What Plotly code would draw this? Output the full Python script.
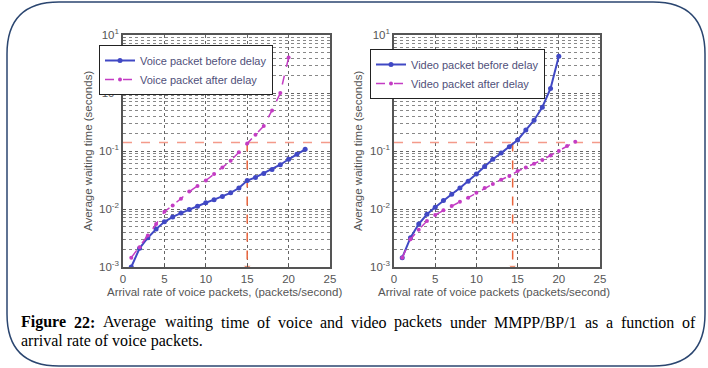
import plotly.graph_objects as go

# ---------------- data ----------------
x_voice_before = list(range(1, 23))
y_voice_before = [0.001, 0.0021, 0.0032, 0.0045, 0.0060, 0.0073, 0.0085, 0.0098, 0.0112, 0.0128,
                  0.0145, 0.0165, 0.019, 0.023, 0.031, 0.035, 0.041, 0.048, 0.058, 0.072, 0.088, 0.107]
x_voice_after = list(range(1, 21))
y_voice_after = [0.00145, 0.0022, 0.0035, 0.0055, 0.0090, 0.0115, 0.0150, 0.020, 0.025, 0.031,
                 0.040, 0.052, 0.068, 0.095, 0.135, 0.19, 0.27, 0.50, 1.0, 4.1]

x_video_before = list(range(1, 21))
y_video_before = [0.00145, 0.0032, 0.0055, 0.0081, 0.0107, 0.014, 0.018, 0.023, 0.030, 0.040,
                  0.054, 0.072, 0.092, 0.118, 0.155, 0.23, 0.34, 0.57, 1.2, 4.3]
x_video_after = list(range(1, 23))
y_video_after = [0.00145, 0.0030, 0.0044, 0.0062, 0.0079, 0.0095, 0.0113, 0.0133, 0.0157, 0.019,
                 0.023, 0.027, 0.032, 0.037, 0.045, 0.052, 0.060, 0.070, 0.084, 0.100, 0.122, 0.145]

threshold = 0.14
cut_left = 15
cut_right = 14.4
x_span = [0, 25]

x_ticks = [0, 5, 10, 15, 20, 25]
y_tickvals = [0.001, 0.01, 0.1, 1, 10]
y_ticktext = ["10<sup>-3</sup>", "10<sup>-2</sup>", "10<sup>-1</sup>", "10<sup>0</sup>", "10<sup>1</sup>"]

legend_left = ["Voice packet before delay", "Voice packet after delay"]
legend_right = ["Video packet before delay", "Video packet after delay"]
xtitle_left = "Arrival rate of voice packets, (packets/second)"
xtitle_right = "Arrival rate of voice packets (packets/second)"
ytitle = "Average waiting time (seconds)"
caption_line1 = ["<b>Figure</b>", "<b>22:</b>", "Average", "waiting", "time", "of", "voice", "and",
                 "video", "packets", "under", "MMPP/BP/1", "as", "a", "function", "of"]
caption_line2 = "arrival rate of voice packets."

# ---------------- styling ----------------
W, H = 708, 368
BLUE = "#4048c4"
MAG = "#c43cc4"
RED = "#e8643c"
PINK = "#f49a8a"
SANS = "Liberation Sans, Arial, sans-serif"
SERIF = "Liberation Serif, Times New Roman, serif"


def px(x):
    return x / W


def py(y):
    return 1 - y / H


fig = go.Figure()


def add_panel(xa, ya, legend, xb, yb, xa_, ya_, names, cut):
    xref = "x" if xa == 1 else "x%d" % xa
    yref = "y" if ya == 1 else "y%d" % ya
    fig.add_trace(go.Scatter(x=x_span, y=[threshold, threshold], mode="lines",
                             line=dict(color=PINK, width=1.5, dash="dash"),
                             showlegend=False, xaxis=xref, yaxis=yref, hoverinfo="skip"))
    fig.add_trace(go.Scatter(x=[cut, cut], y=[threshold, y_tickvals[0]], mode="lines+markers",
                             line=dict(color=RED, width=1.5, dash="dash"),
                             marker=dict(symbol=["circle", "triangle-down"], size=[0, 7], color=RED),
                             showlegend=False, xaxis=xref, yaxis=yref, hoverinfo="skip"))
    fig.add_trace(go.Scatter(x=xb, y=yb, mode="lines+markers", name=names[0],
                             line=dict(color=BLUE, width=2),
                             marker=dict(color=BLUE, size=5),
                             xaxis=xref, yaxis=yref, legend=legend))
    fig.add_trace(go.Scatter(x=xa_, y=ya_, mode="lines+markers", name=names[1],
                             line=dict(color=MAG, width=1.5, dash="dash"),
                             marker=dict(color=MAG, size=4),
                             xaxis=xref, yaxis=yref, legend=legend))


add_panel(1, 1, "legend", x_voice_before, y_voice_before, x_voice_after, y_voice_after,
          legend_left, cut_left)
add_panel(2, 2, "legend2", x_video_before, y_video_before, x_video_after, y_video_after,
          legend_right, cut_right)

axis_common = dict(showline=True, linecolor="#555", linewidth=1.5, mirror=True,
                   ticks="inside", ticklen=3, tickcolor="#555",
                   tickfont=dict(family=SANS, size=11.5, color="#555"),
                   showgrid=True, gridcolor="#666", griddash="dot", gridwidth=1, zeroline=False)

xaxis_base = dict(axis_common, range=x_span, tickvals=x_ticks)
yaxis_base = dict(axis_common, type="log", range=[-3, 1], tickvals=y_tickvals, ticktext=y_ticktext,
                  minor=dict(tickmode="linear", tick0=0, dtick="D1", showgrid=True,
                             gridcolor="#888", griddash="dot", gridwidth=1,
                             ticks="inside", ticklen=2, tickcolor="#777"))

y0, y1 = py(267), py(35)
leg_font = dict(family=SANS, size=11, color="#50507a")
fig.update_layout(
    autosize=True, margin=dict(l=0, r=0, t=0, b=0, autoexpand=False),
    paper_bgcolor="white", plot_bgcolor="white",
    xaxis=dict(xaxis_base, domain=[px(123), px(330)], anchor="y"),
    yaxis=dict(yaxis_base, domain=[y0, y1], anchor="x"),
    xaxis2=dict(xaxis_base, domain=[px(394), px(600)], anchor="y2"),
    yaxis2=dict(yaxis_base, domain=[y0, y1], anchor="x2"),
    legend=dict(x=px(99), y=py(45), xanchor="left", yanchor="top", bgcolor="white",
                bordercolor="#222", borderwidth=1, font=leg_font,
                itemwidth=30, tracegroupgap=0),
    legend2=dict(x=px(370), y=py(49), xanchor="left", yanchor="top", bgcolor="white",
                 bordercolor="#222", borderwidth=1, font=leg_font,
                 itemwidth=30, tracegroupgap=0),
    showlegend=True,
)

ann = []
for cx, t in [(224, xtitle_left), (494, xtitle_right)]:
    ann.append(dict(x=px(cx), y=py(292), xref="paper", yref="paper", text=t, showarrow=False,
                    xanchor="center", yanchor="middle", font=dict(family=SANS, size=11.5, color="#555")))
for cx in [88, 358]:
    ann.append(dict(x=px(cx), y=py(151), xref="paper", yref="paper", text=ytitle, showarrow=False,
                    textangle=-90, xanchor="center", yanchor="middle",
                    font=dict(family=SANS, size=11.5, color="#555")))

# caption line 1, justified between x=19 and x=693
TIMES = {'a': 444, 'b': 500, 'c': 444, 'd': 500, 'e': 444, 'f': 333, 'g': 500, 'h': 500, 'i': 278,
         'j': 278, 'k': 500, 'l': 278, 'm': 778, 'n': 500, 'o': 500, 'p': 500, 'q': 500, 'r': 333,
         's': 389, 't': 278, 'u': 500, 'v': 500, 'w': 722, 'x': 500, 'y': 500, 'z': 444,
         'A': 722, 'B': 667, 'F': 556, 'M': 889, 'P': 556, '/': 278, ':': 278, '1': 500, '2': 500,
         '.': 250}
TIMESB = {'F': 611, 'i': 278, 'g': 500, 'u': 556, 'r': 444, 'e': 444, '2': 500, ':': 333}
FS = 16


def wwidth(w):
    bold = w.startswith("<b>")
    s = w.replace("<b>", "").replace("</b>", "")
    tbl = TIMESB if bold else TIMES
    return sum(tbl.get(c, 500) for c in s) * FS / 1000


widths = [wwidth(w) for w in caption_line1]
left, right = 19, 693
gap = (right - left - sum(widths)) / (len(caption_line1) - 1)
xc = left
for w, wd in zip(caption_line1, widths):
    ann.append(dict(x=px(xc), y=py(322), xref="paper", yref="paper", text=w, showarrow=False,
                    xanchor="left", yanchor="middle", font=dict(family=SERIF, size=FS, color="black")))
    xc += wd + gap
ann.append(dict(x=px(19), y=py(341), xref="paper", yref="paper", text=caption_line2, showarrow=False,
                xanchor="left", yanchor="middle", font=dict(family=SERIF, size=FS, color="black")))
fig.update_layout(annotations=ann)

# rounded outer border
L, R, T, B = 7, 705, 2, 366
r = 52
path = (f"M {px(L + r)},{py(T)} L {px(R - r)},{py(T)} "
        f"Q {px(R)},{py(T)} {px(R)},{py(T + r)} "
        f"L {px(R)},{py(B - r)} Q {px(R)},{py(B)} {px(R - r)},{py(B)} "
        f"L {px(L + r)},{py(B)} Q {px(L)},{py(B)} {px(L)},{py(B - r)} "
        f"L {px(L)},{py(T + r)} Q {px(L)},{py(T)} {px(L + r)},{py(T)} Z")
fig.add_shape(type="path", path=path, xref="paper", yref="paper",
              line=dict(color="#2b4670", width=1.5), fillcolor="rgba(0,0,0,0)", layer="above")

css_js = ("var s=document.createElement('style');"
          "s.innerHTML='html,body{margin:0;padding:0;overflow:hidden;}';"
          "document.head.appendChild(s);"
          "var g=document.getElementsByClassName('plotly-graph-div')[0];"
          "g.style.width='708px';g.style.height='368px';"
          "Plotly.relayout(g,{width:708,height:368});")
fig.write_html("out.html", config={"displayModeBar": False, "responsive": False},
               default_width="708px", default_height="368px", post_script=css_js)
